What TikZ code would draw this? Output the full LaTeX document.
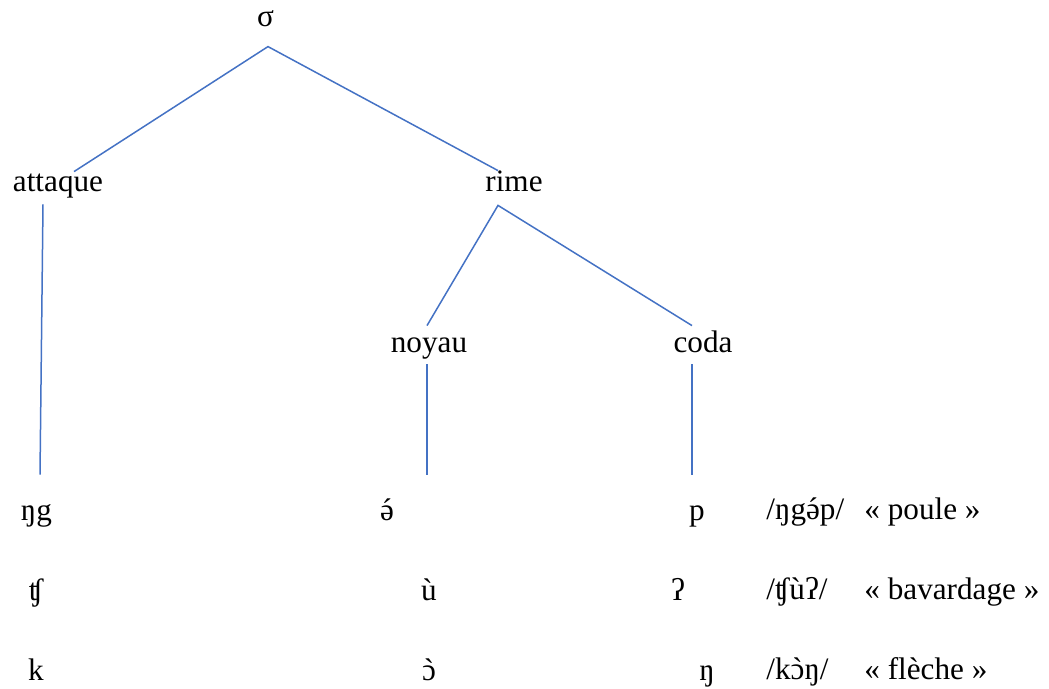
\documentclass[tikz,border=0pt]{standalone}
\usepackage{fontspec}
\setmainfont{Liberation Serif}
\newfontfamily\plainserif{Liberation Serif}
\usepackage{tikz}
\usetikzlibrary{calc}
\definecolor{treeblue}{RGB}{68,114,196}
% accent centred over a letter
\newcommand\accup[2]{\ooalign{#1\cr\hidewidth{\plainserif#2}\hidewidth\cr}}
\newcommand\acuteon[1]{\accup{#1}{\char"00B4}}
\newcommand\graveon[1]{\accup{#1}{\char"0060}}
\tikzset{
    branch/.style={draw=treeblue, line width=0.75pt},
    constit/.style={font=\fontsize{15.6}{18}\selectfont, inner sep=0pt,
        text height=0.7em, text depth=0.25em, anchor=base},
    segment/.style={constit},
    gloss/.style={constit, anchor=base west},
}

\begin{document}
\begin{tikzpicture}[x=0.5pt, y=-0.5pt]
\useasboundingbox (0,0) rectangle (1049,689);
% tree
\node[constit] (sigma) at (265.5,27) {σ};
\node[constit] (attaque) at (58,192) {attaque};
\node[constit] (rime) at (514,192) {rime};
\node[constit] (noyau) at (429,353) {noyau};
\node[constit] (coda) at (703,353) {coda};
% segments
\node[segment] (ng) at (36.5,520) {ŋg};
\node[segment] (shwa) at (387,520) {\acuteon{ə}};
\node[segment] (p) at (697,520) {p};
\node[segment] (tsh) at (36,600) {ʧ};
\node[segment] (u) at (429,600) {ù};
\node[segment] (glot) at (678,600) {ʔ};
\node[segment] (k) at (36,680) {k};
\node[segment] (o) at (429,680) {\graveon{ɔ}};
\node[segment] (eng) at (707,680) {ŋ};
% words
\node[gloss] (w1) at (766,519) {/ŋg\acuteon{ə}p/};
\node[gloss] (g1) at (864,519) {« poule »};
\node[gloss] (w2) at (766,599) {/ʧùʔ/};
\node[gloss] (g2) at (864,599) {« bavardage »};
\node[gloss] (w3) at (766,679) {/k\graveon{ɔ}ŋ/};
\node[gloss] (g3) at (864,679) {« flèche »};
% branches
\draw[branch] ($(attaque.north)+(16,-6)$) -- ($(sigma.south)+(2.5,14.2)$) -- ($(rime.north)+(-16,-7)$);
\draw[branch] ($(noyau.north)+(-2,-13)$) -- ($(rime.south)+(-16,8)$) -- ($(coda.north)+(-11,-13)$);
\draw[branch] ($(attaque.south)+(-15,7)$) -- ($(ng.north)+(3.5,-31)$);
\draw[branch] ($(noyau.south)+(-2,6)$) -- ($(shwa.north)+(40,-31)$);
\draw[branch] ($(coda.south)+(-11,6)$) -- ($(p.north)+(-5,-31)$);
\end{tikzpicture}
\end{document}
